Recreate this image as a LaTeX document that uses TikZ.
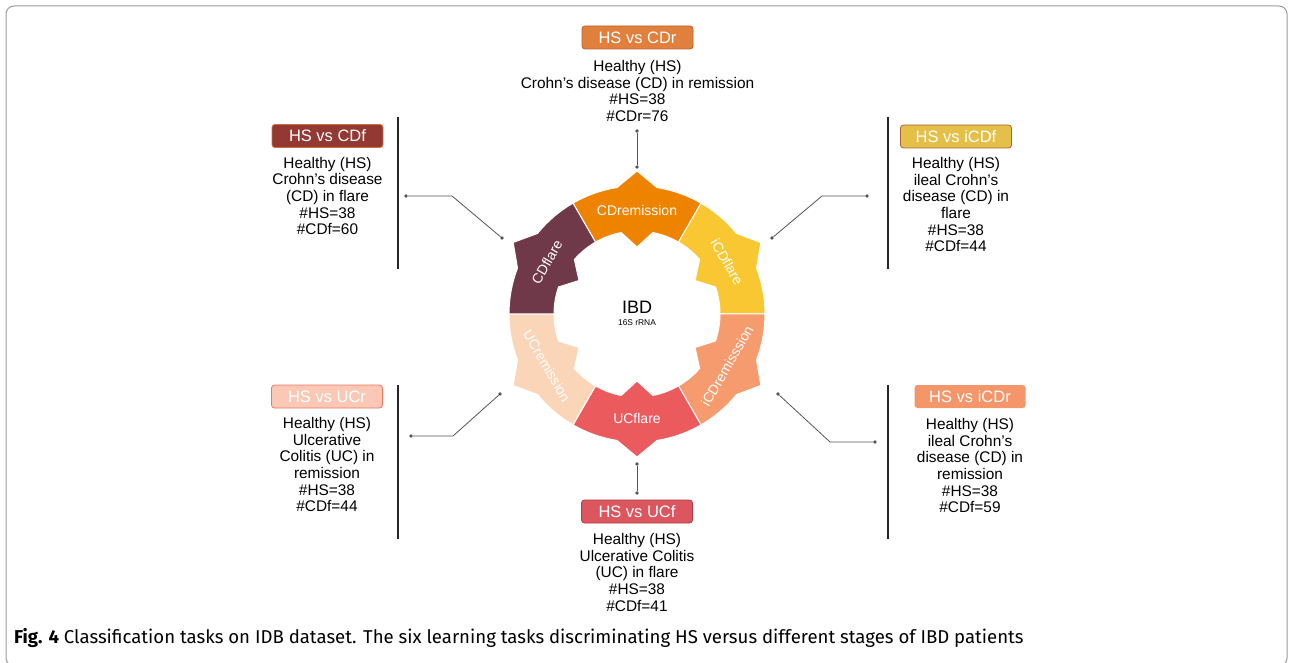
\documentclass[tikz,border=0pt]{standalone}
\usepackage{fontspec}
\setmainfont{Liberation Sans}
\newfontfamily\capfont{Fira Sans}
\usetikzlibrary{positioning}

% ring colours
\definecolor{cdrem}{RGB}{238,131,0}
\definecolor{icdfl}{RGB}{248,199,50}
\definecolor{icdrem}{RGB}{245,155,110}
\definecolor{ucfl}{RGB}{235,90,93}
\definecolor{ucrem}{RGB}{250,213,184}
\definecolor{cdfl}{RGB}{112,57,74}
% tag colours
\definecolor{boxcdr}{RGB}{224,128,60}
\definecolor{boxcdrline}{RGB}{190,95,45}
\definecolor{boxcdf}{RGB}{147,56,50}
\definecolor{boxcdfline}{RGB}{205,110,70}
\definecolor{boxicdf}{RGB}{228,192,72}
\definecolor{boxicdfline}{RGB}{175,95,60}
\definecolor{boxucr}{RGB}{250,200,180}
\definecolor{boxucrline}{RGB}{238,118,105}
\definecolor{boxicdr}{RGB}{245,150,106}
\definecolor{boxucf}{RGB}{220,86,96}
\definecolor{boxucfline}{RGB}{175,60,70}
\definecolor{linkgray}{RGB}{85,85,85}

\begin{document}
\begin{tikzpicture}[x=1pt, y=1pt,
            seg/.style={draw=white, line width=1pt},
            seglab/.style={text=white, font=\fontsize{14}{15}\selectfont, inner sep=0pt},
            tagbox/.style={rounded corners=3pt, minimum width=111pt, minimum height=23pt, inner sep=0pt,
                    text=white, font=\fontsize{16.5}{18}\selectfont, line width=0.8pt},
            info/.style={align=center, font=\fontsize{15.4}{16.6}\selectfont, inner sep=0pt},
            dot/.style={circle, fill=linkgray, minimum size=3.6pt, inner sep=0pt},
            link/.style={linkgray, line width=0.8pt},
            divider/.style={black!85, line width=1.2pt}
        ]
        \useasboundingbox (0,0) rectangle (1292,662);

        % outer frame
        \draw[black!40, line width=1pt, rounded corners=8pt] (6,-4) rectangle (1287,656);

        % six ring segments, each with a point outwards and a point inwards
        \begin{scope}[shift={(637,348)}]
            \foreach \m/\col/\lab/\rot [count=\n] in {90/cdrem/CDremission/0, 30/icdfl/iCDflare/-60,
                    -30/icdrem/iCDremisssion/60, -90/ucfl/UCflare/0,
                    210/ucrem/UCremission/-60, 150/cdfl/CDflare/60} {
                    \fill[\col, seg] (\m-30:83) -- (\m-30:128)
                    arc[start angle=\m-30, end angle=\m-9, radius=128]
                    -- (\m:143) -- (\m+9:128)
                    arc[start angle=\m+9, end angle=\m+30, radius=128]
                    -- (\m+30:83)
                    arc[start angle=\m+30, end angle=\m+11, radius=83]
                    -- (\m:67) -- (\m-11:83)
                    arc[start angle=\m-11, end angle=\m-30, radius=83] -- cycle;
                    \node[seglab, rotate=\rot] (lab\n) at (\m:104) {\lab};
                }
            \node[font=\fontsize{18}{20}\selectfont, inner sep=0pt] (ibd) at (0,7) {IBD};
            \node[font=\fontsize{8.4}{9}\selectfont, inner sep=0pt] (rrna) at (0,-9) {16S rRNA};
        \end{scope}

        % dividers
        \draw[divider] (398,545) -- (398,393);
        \draw[divider] (888,545) -- (888,393);
        \draw[divider] (398,277) -- (398,123);
        \draw[divider] (888,277) -- (888,123);

        % connectors
        \node[dot] (t1) at (637,531) {};
        \node[dot] (t2) at (637,495) {};
        \draw[link] (t1) -- (t2);
        \node[dot] (b1) at (637,198) {};
        \node[dot] (b2) at (637,169) {};
        \draw[link] (b1) -- (b2);
        \node[dot] (ul1) at (406,466) {};
        \coordinate (ul2) at (452,466);
        \node[dot] (ul3) at (502,424) {};
        \draw[link] (ul1) -- (ul2) -- (ul3);
        \node[dot] (ur1) at (867,466) {};
        \coordinate (ur2) at (822,466);
        \node[dot] (ur3) at (772,424) {};
        \draw[link] (ur1) -- (ur2) -- (ur3);
        \node[dot] (ll1) at (411,226) {};
        \coordinate (ll2) at (453,226);
        \node[dot] (ll3) at (500,268) {};
        \draw[link] (ll1) -- (ll2) -- (ll3);
        \node[dot] (lr1) at (875,220) {};
        \coordinate (lr2) at (830,220);
        \node[dot] (lr3) at (778,268) {};
        \draw[link] (lr1) -- (lr2) -- (lr3);

        % tasks
        \node[tagbox, fill=boxcdr, draw=boxcdrline] (cdrbox) at (637.5,624.5) {HS vs CDr};
        \node[info, below=11pt of cdrbox] (cdrtxt) {Healthy (HS)\\Crohn’s disease (CD) in remission\\\#HS=38\\\#CDr=76};

        \node[tagbox, fill=boxcdf, draw=boxcdfline] (cdfbox) at (327.5,526) {HS vs CDf};
        \node[info, below=9pt of cdfbox] (cdftxt) {Healthy (HS)\\Crohn’s disease\\(CD) in flare\\\#HS=38\\\#CDf=60};

        \node[tagbox, fill=boxicdf, draw=boxicdfline] (icdfbox) at (956,525.5) {HS vs iCDf};
        \node[info, below=9pt of icdfbox] (icdftxt) {Healthy (HS)\\ileal Crohn’s\\disease (CD) in\\flare\\\#HS=38\\\#CDf=44};

        \node[tagbox, fill=boxucr, draw=boxucrline] (ucrbox) at (327,265.5) {HS vs UCr};
        \node[info, below=9pt of ucrbox] (ucrtxt) {Healthy (HS)\\Ulcerative\\Colitis (UC) in\\remission\\\#HS=38\\\#CDf=44};

        \node[tagbox, fill=boxicdr] (icdrbox) at (970,265.5) {HS vs iCDr};
        \node[info, below=10pt of icdrbox] (icdrtxt) {Healthy (HS)\\ileal Crohn’s\\disease (CD) in\\remission\\\#HS=38\\\#CDf=59};

        \node[tagbox, fill=boxucf, draw=boxucfline] (ucfbox) at (637,150.5) {HS vs UCf};
        \node[info, below=10pt of ucfbox] (ucftxt) {Healthy (HS)\\Ulcerative Colitis\\(UC) in flare\\\#HS=38\\\#CDf=41};

        % caption
        \node[anchor=west, inner sep=0pt, font=\capfont\fontsize{18.6}{20}\selectfont] (caption) at (14,24)
        {\textbf{Fig. 4} Classification tasks on IDB dataset. The six learning tasks discriminating HS versus different stages of IBD patients};
    \end{tikzpicture}
\end{document}
